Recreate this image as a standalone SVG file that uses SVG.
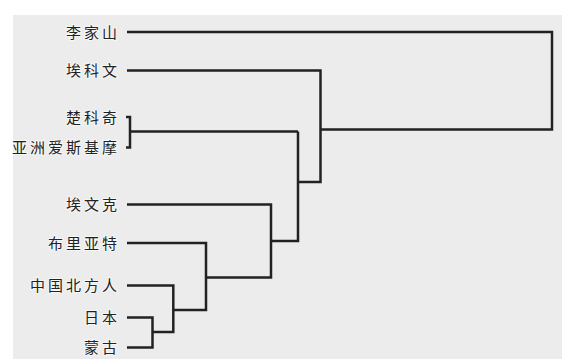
<svg xmlns="http://www.w3.org/2000/svg" width="574" height="364" viewBox="0 0 574 364">
<style>
.lbl{font-family:"Noto Sans CJK SC","Noto Sans CJK TC",sans-serif;font-size:15px;letter-spacing:3px;fill:#222;text-anchor:end;stroke:#fff;stroke-width:2;stroke-opacity:0.6;paint-order:stroke}
.c{fill:none;stroke:#222;stroke-width:2.5;stroke-linejoin:miter;stroke-linecap:butt}
</style>
<rect x="0" y="0" width="574" height="364" fill="#fff"/>
<rect x="13" y="15" width="549" height="344" fill="#ececec"/>
<g id="connectors">
<path class="c" d="M127,32 H552 V129.5 H320.5"/>
<path class="c" d="M127,70.5 H320.5 V182 H298"/>
<path class="c" d="M126,117 H130 V147.5 H126 M130,131.5 H298"/>
<path class="c" d="M298,131.5 V241 H271"/>
<path class="c" d="M127,204.5 H271 V277.5 H206"/>
<path class="c" d="M127,243 H206 V310 H173.3"/>
<path class="c" d="M127,285.5 H173.3 V332 H152.5"/>
<path class="c" d="M127,317.5 H152.5 V347.5 H127"/>
</g>
<g id="n-lijiashan"><text class="lbl" x="120" y="37.5">李家山</text></g>
<g id="n-aikewen"><text class="lbl" x="120" y="76">埃科文</text></g>
<g id="n-chukeqi"><text class="lbl" x="120" y="122.5">楚科奇</text></g>
<g id="n-eskimo"><text class="lbl" x="120" y="153">亚洲爱斯基摩</text></g>
<g id="n-aiwenke"><text class="lbl" x="120" y="210">埃文克</text></g>
<g id="n-buliyate"><text class="lbl" x="120" y="248.5">布里亚特</text></g>
<g id="n-north-china"><text class="lbl" x="120" y="291">中国北方人</text></g>
<g id="n-japan"><text class="lbl" x="120" y="323">日本</text></g>
<g id="n-mongol"><text class="lbl" x="120" y="353">蒙古</text></g>
</svg>
